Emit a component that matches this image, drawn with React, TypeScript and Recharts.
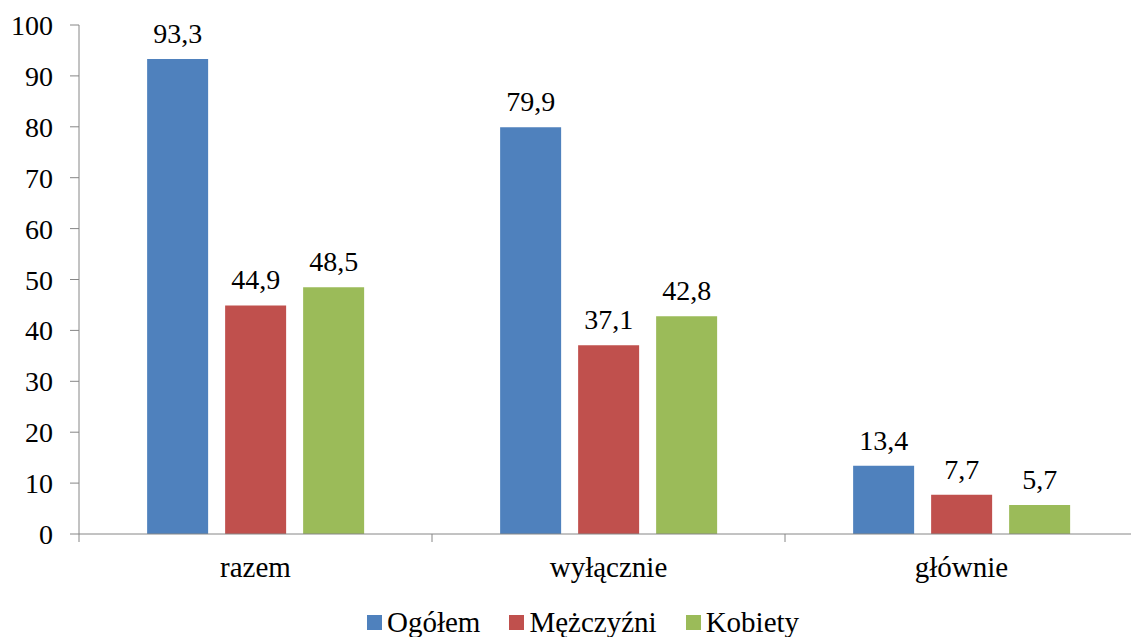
import React from 'react';
import { BarChart, Bar, XAxis, YAxis, Legend, LabelList } from 'recharts';

const categories = ['razem', 'wyłącznie', 'głównie'];
const ogolem = [93.3, 79.9, 13.4];
const mezczyzni = [44.9, 37.1, 7.7];
const kobiety = [48.5, 42.8, 5.7];
const yTicks = [0, 10, 20, 30, 40, 50, 60, 70, 80, 90, 100];
const seriesNames = ['Ogółem', 'Mężczyźni', 'Kobiety'];
const colors = ['#4F81BD', '#C0504D', '#9BBB59'];

const data = categories.map((c, i) => ({
  name: c,
  ogolem: ogolem[i],
  mezczyzni: mezczyzni[i],
  kobiety: kobiety[i],
}));

const CHART_W = 1140;
const CHART_H = 637;
const MARGIN = { top: 25, right: 2, left: 0, bottom: 0 };
const Y_W = 79;
const PLOT_W = CHART_W - MARGIN.left - MARGIN.right - Y_W;
const BAND = PLOT_W / categories.length;
const FONT = 'Liberation Serif';
const AXIS_COLOR = '#868686';

const fmt = (v: any) => String(v).replace('.', ',');

const XTick = (props: any) => {
  const { x, y, payload, index } = props;
  const half = BAND / 2;
  return (
    <g>
      <line x1={x - half} y1={y} x2={x - half} y2={y + 8} stroke={AXIS_COLOR} strokeWidth={1} />
      {index === categories.length - 1 && (
        <line x1={x + half} y1={y} x2={x + half} y2={y + 8} stroke={AXIS_COLOR} strokeWidth={1} />
      )}
      <text x={x} y={y + 43} textAnchor="middle" style={{ fontFamily: FONT }} fontSize={29} fill="#000">
        {payload.value}
      </text>
    </g>
  );
};

const YTick = (props: any) => {
  const { x, y, payload } = props;
  return (
    <text x={x} y={y} dy={10} textAnchor="end" style={{ fontFamily: FONT }} fontSize={28} fill="#000">
      {payload.value}
    </text>
  );
};

const BarLabel = (props: any) => {
  const { x, y, width, value } = props;
  return (
    <text x={x + width / 2} y={y - 16} textAnchor="middle" style={{ fontFamily: FONT }} fontSize={28} fill="#000">
      {fmt(value)}
    </text>
  );
};

const LegendContent = () => (
  <div
    style={{
      height: 43,
      display: 'flex',
      alignItems: 'flex-end',
      paddingLeft: 367,
      fontFamily: FONT,
      fontSize: 29,
      color: '#000',
      boxSizing: 'border-box',
    }}
  >
    {seriesNames.map((n, i) => (
      <div key={n} style={{ display: 'flex', alignItems: 'center', marginRight: 29, height: 29, lineHeight: '29px' }}>
        <span style={{ display: 'inline-block', width: 15, height: 15, background: colors[i], marginRight: 5 }} />
        <span>{n}</span>
      </div>
    ))}
  </div>
);

export default function App() {
  return (
    <div style={{ position: 'absolute', left: 0, top: 0, width: 1131, height: 637, overflow: 'hidden', background: '#fff', fontFamily: FONT }}>
      <BarChart
        width={CHART_W}
        height={CHART_H}
        data={data}
        margin={MARGIN}
        barCategoryGap="19.3%"
        barGap={17}
      >
        <XAxis
          dataKey="name"
          height={60}
          tickLine={false}
          tickSize={0}
          tickMargin={0}
          axisLine={{ stroke: AXIS_COLOR }}
          tick={<XTick />}
          interval={0}
        />
        <YAxis
          width={Y_W}
          domain={[0, 100]}
          ticks={yTicks}
          interval={0}
          tickSize={9}
          tickMargin={17}
          axisLine={{ stroke: AXIS_COLOR }}
          tickLine={{ stroke: AXIS_COLOR }}
          tick={<YTick />}
        />
        <Legend verticalAlign="bottom" height={43} content={<LegendContent />} />
        <Bar dataKey="ogolem" name={seriesNames[0]} fill={colors[0]} isAnimationActive={false}>
          <LabelList dataKey="ogolem" content={<BarLabel />} />
        </Bar>
        <Bar dataKey="mezczyzni" name={seriesNames[1]} fill={colors[1]} isAnimationActive={false}>
          <LabelList dataKey="mezczyzni" content={<BarLabel />} />
        </Bar>
        <Bar dataKey="kobiety" name={seriesNames[2]} fill={colors[2]} isAnimationActive={false}>
          <LabelList dataKey="kobiety" content={<BarLabel />} />
        </Bar>
      </BarChart>
    </div>
  );
}
